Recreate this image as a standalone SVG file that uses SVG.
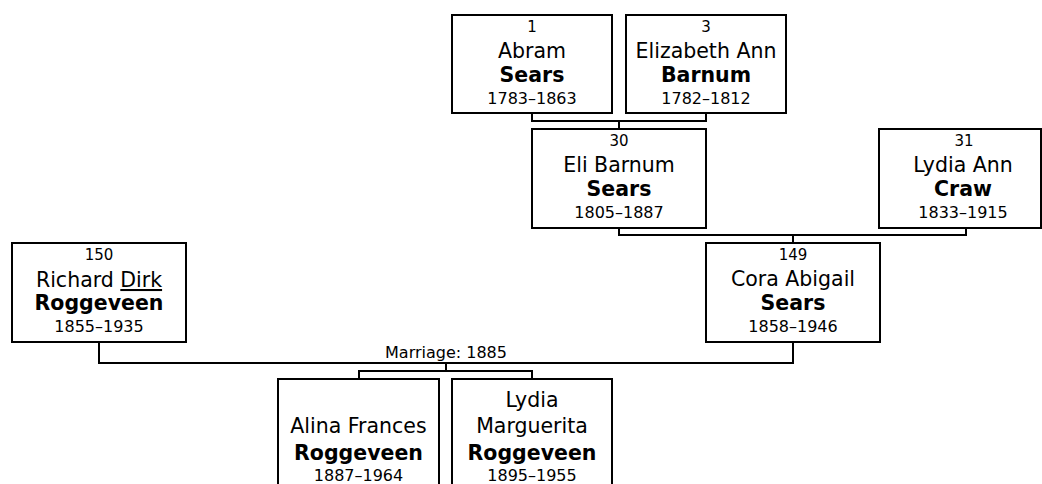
<svg xmlns="http://www.w3.org/2000/svg" width="1042" height="484" viewBox="0 0 1042 484">
<style>
.box{fill:#fff;stroke:#000;stroke-width:2}
.conn{fill:none;stroke:#000;stroke-width:2}
text{font-family:"DejaVu Sans",Verdana,sans-serif;fill:#000;text-anchor:middle}
.num{font-size:15px}
.name{font-size:20.5px}
.sur{font-size:20.5px;font-weight:bold}
.date{font-size:16px}
.lbl{font-size:16px}
</style>
<rect x="0" y="0" width="1042" height="484" fill="#fff"/>
<g id="connectors">
<path class="conn" d="M532,113 V121 H706 V113 M619,121 V129"/>
<path class="conn" d="M619,228 V235 H966 V228 M793,235 V243"/>
<path class="conn" d="M99,342 V363 H793 V342 M446,363 V371 M359,379 V371 H532 V379"/>
<text class="lbl" x="446" y="358">Marriage: 1885</text>
</g>
<g id="n1">
<rect class="box" x="452" y="15" width="160" height="98"/>
<text class="num" x="532" y="31.5">1</text>
<text class="name" x="532" y="58">Abram</text>
<text class="sur" x="532" y="82">Sears</text>
<text class="date" x="532" y="103.5">1783–1863</text>
</g>
<g id="n3">
<rect class="box" x="626" y="15" width="160" height="98"/>
<text class="num" x="706" y="31.5">3</text>
<text class="name" x="706" y="58">Elizabeth Ann</text>
<text class="sur" x="706" y="82">Barnum</text>
<text class="date" x="706" y="103.5">1782–1812</text>
</g>
<g id="n30">
<rect class="box" x="532" y="129" width="174" height="99"/>
<text class="num" x="619" y="145.5">30</text>
<text class="name" x="619" y="172">Eli Barnum</text>
<text class="sur" x="619" y="196">Sears</text>
<text class="date" x="619" y="217.5">1805–1887</text>
</g>
<g id="n31">
<rect class="box" x="879" y="129" width="162" height="99"/>
<text class="num" x="964" y="145.5">31</text>
<text class="name" x="963" y="172">Lydia Ann</text>
<text class="sur" x="963" y="196">Craw</text>
<text class="date" x="963" y="217.5">1833–1915</text>
</g>
<g id="n150">
<rect class="box" x="12" y="243" width="174" height="99"/>
<text class="num" x="99" y="259.5">150</text>
<text class="name" x="99" y="287">Richard <tspan style="text-decoration:underline">Dirk</tspan></text>
<text class="sur" x="99" y="310">Roggeveen</text>
<text class="date" x="99" y="331.5">1855–1935</text>
</g>
<g id="n149">
<rect class="box" x="706" y="243" width="174" height="99"/>
<text class="num" x="793" y="259.5">149</text>
<text class="name" x="793" y="286">Cora Abigail</text>
<text class="sur" x="793" y="310">Sears</text>
<text class="date" x="793" y="331.5">1858–1946</text>
</g>
<g id="alina">
<rect class="box" x="278" y="379" width="161" height="125"/>
<text class="name" x="358.5" y="433">Alina Frances</text>
<text class="sur" x="358.5" y="460">Roggeveen</text>
<text class="date" x="358.5" y="481">1887–1964</text>
</g>
<g id="lydiam">
<rect class="box" x="452" y="379" width="160" height="125"/>
<text class="name" x="532" y="406.5">Lydia</text>
<text class="name" x="532" y="433">Marguerita</text>
<text class="sur" x="532" y="460">Roggeveen</text>
<text class="date" x="532" y="481">1895–1955</text>
</g>
</svg>
